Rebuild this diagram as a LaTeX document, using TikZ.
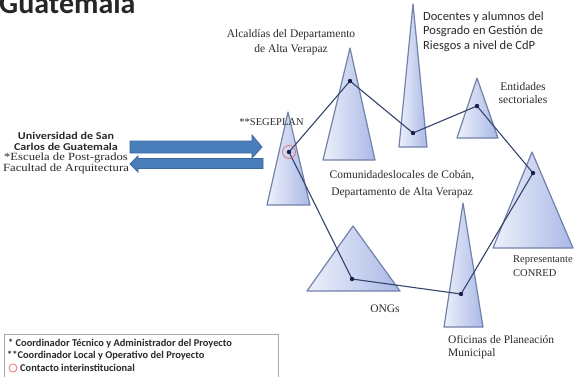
\documentclass[tikz,border=0pt]{standalone}
\usepackage{fontspec}
\setmainfont{Liberation Serif}
\newfontfamily\calib{Carlito}
\newfontfamily\calibw[FakeStretch=1.15]{Carlito}
\newfontfamily\serifw[FakeStretch=1.15]{Liberation Serif}
\definecolor{triL}{HTML}{EEF1FB}
\definecolor{triR}{HTML}{A9B8E6}
\definecolor{triD}{HTML}{7282AA}
\definecolor{linkC}{HTML}{34456B}
\definecolor{dotC}{HTML}{16204A}
\definecolor{arrF}{HTML}{4A7EBB}
\definecolor{arrD}{HTML}{3A68A0}
\definecolor{legD}{HTML}{A8A8A8}
\definecolor{redC}{HTML}{E06A6A}
\definecolor{txt}{HTML}{2A2A2A}
\newcommand{\usacbold}{\calibw\bfseries\fontsize{10.5}{10.4}\selectfont}
\newcommand{\usacreg}{\serifw\mdseries\fontsize{11}{10.4}\selectfont}
\begin{document}
\begin{tikzpicture}[x=1pt,y=-1pt,
  tri/.style={left color=triL,right color=triR,draw=triD,line width=1.2pt,line join=round},
  link/.style={draw=linkC,line width=1.1pt,line join=round},
  dotmark/.style={fill=dotC},
  lbl/.style={inner sep=0pt,text=txt,font=\fontsize{11.5}{13}\selectfont},
  blockarrow/.style={fill=arrF,draw=arrD,line width=0.8pt,line join=miter},
  legtxt/.style={inner sep=0pt,anchor=west,text=txt,font=\calib\bfseries\fontsize{10.4}{12}\selectfont}]
\useasboundingbox (0,0) rectangle (580,376);
\fill[white] (0,0) rectangle (580,376);

% title
\node[inner sep=0pt,anchor=base west,font=\calib\bfseries\fontsize{30}{30}\selectfont,text=black!85] (title) at (-1,13) {Guatemala};

% triangles
\path[tri] (288,112) -- (267,205) -- (310,205) -- cycle;
\path[tri] (350,48) -- (323,160) -- (375,160) -- cycle;
\path[tri] (413,4) -- (399,147) -- (427,147) -- cycle;
\path[tri] (477,78) -- (457,138) -- (498,138) -- cycle;
\path[tri] (532,152) -- (493,248) -- (573,248) -- cycle;
\path[tri] (463,203) -- (444,327) -- (483,327) -- cycle;
\path[tri] (353,226) -- (307,291) -- (400,291) -- cycle;

% dot positions
\coordinate (dSeg) at (289,152);
\coordinate (dAlc) at (350,81);
\coordinate (dDoc) at (413,133);
\coordinate (dEnt) at (477,106);
\coordinate (dCon) at (533,173);
\coordinate (dOfi) at (461,294);
\coordinate (dOng) at (352,279);

% connectors
\draw[link] (dSeg) -- (dAlc) -- (dDoc) -- (dEnt) -- (dCon) -- (dOfi) -- (dOng) -- (dSeg);
\foreach \d in {dSeg,dAlc,dDoc,dEnt,dCon,dOfi,dOng} \fill[dotmark] (\d) circle (2.2pt);
\draw[redC,line width=0.7pt] (dSeg) circle (6.5pt);

% block arrows
\path[blockarrow] (130,141) -- (252,141) -- (252,135) -- (262,147) -- (252,158) -- (252,153) -- (130,153) -- cycle;
\path[blockarrow] (263,158.5) -- (138,158.5) -- (138,156) -- (130,164) -- (138,172) -- (138,168.5) -- (263,168.5) -- cycle;

% labels
\node[lbl,align=center,text=txt,font=\usacbold] (usac) at (66,153)
  {\usacbold Universidad de San\\\usacbold Carlos de Guatemala\\\usacreg *Escuela de Post-grados\\\usacreg Facultad de Arquitectura};
\node[lbl,align=center,font=\fontsize{11.5}{15}\selectfont] (lAlc) at (291,42.5) {Alcaldías del Departamento\\de Alta Verapaz};
\node[lbl,align=left,anchor=west,font=\calib\fontsize{12.5}{14.5}\selectfont] (lDoc) at (423,31.5) {Docentes y alumnos del\\Posgrado en Gestión de\\Riesgos a nivel de CdP};
\node[lbl,align=center] (lEnt) at (523,93.5) {Entidades\\sectoriales};
\node[lbl,align=center,font=\fontsize{11.5}{17}\selectfont] (lCom) at (402,184.5) {Comunidadeslocales de Cobán,\\Departamento de Alta Verapaz};
\node[lbl,align=left,anchor=west] (lOfi) at (448,347.5) {Oficinas de Planeación\\Municipal};
\node[lbl] (lOng) at (385,309) {ONGs};
\node[lbl,align=left,anchor=west,font=\fontsize{10.5}{14}\selectfont] (lCon) at (513,266) {Representante\\CONRED};
\node[lbl,font=\fontsize{10.5}{12}\selectfont] (lSeg) at (271.5,122) {**SEGEPLAN};

% legend
\draw[legD,line width=0.8pt] (4,334) rectangle (278,385);
\node[legtxt] (leg1) at (8,344) {* Coordinador Técnico y Administrador del Proyecto};
\node[legtxt] (leg2) at (7,356) {**Coordinador Local y Operativo del Proyecto};
\draw[redC,line width=0.7pt] (13,368) circle (4pt);
\node[legtxt] (leg3) at (20,368) {Contacto interinstitucional};
\end{tikzpicture}
\end{document}
